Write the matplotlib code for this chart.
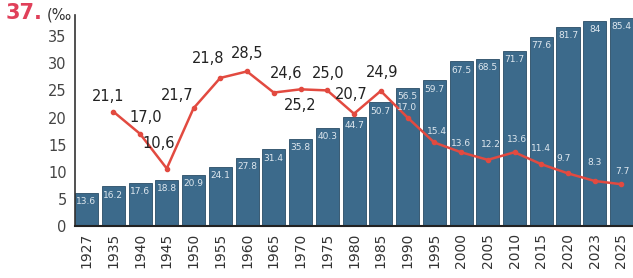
import matplotlib
matplotlib.use("Agg")
import matplotlib.pyplot as plt
import numpy as np

# data
years = ["1927", "1935", "1940", "1945", "1950", "1955", "1960", "1965", "1970",
         "1975", "1980", "1985", "1990", "1995", "2000", "2005", "2010", "2015",
         "2020", "2023", "2025"]
urban = [13.6, 16.2, 17.6, 18.8, 20.9, 24.1, 27.8, 31.4, 35.8, 40.3, 44.7,
         50.7, 56.5, 59.7, 67.5, 68.5, 71.7, 77.6, 81.7, 84, 85.4]
urban_text = ["13.6", "16.2", "17.6", "18.8", "20.9", "24.1", "27.8", "31.4",
              "35.8", "40.3", "44.7", "50.7", "56.5", "59.7", "67.5", "68.5",
              "71.7", "77.6", "81.7", "84", "85.4"]
# rate (‰), from 1935 on
rate = [21.1, 17.0, 10.6, 21.7, 27.3, 28.5, 24.6, 25.2, 25.0, 20.7, 24.9,
        20.0, 15.4, 13.6, 12.2, 13.6, 11.4, 9.7, 8.3, 7.7]
rate_text = ["21,1", "17,0", "10,6", "21,7", "21,8", "28,5", "24,6", "25,2",
             "25,0", "20,7", "24,9", "17.0", "15.4", "13.6", "12.2", "13.6",
             "11.4", "9.7", "8.3", "7.7"]

# label offsets (points) for the rate labels
rate_off = [(-4, 11), (4, 12), (-6, 18), (-12, 9), (-9, 14), (0, 13), (9, 14),
            (0, -12), (1, 12), (-2, 14), (1, 13), (0, 7), (2, 8), (0, 6),
            (2, 11), (2, 9), (0, 11), (-3, 11), (0, 13), (1, 9)]

BAR = "#3c6a8b"
RED = "#e24a40"

fig = plt.figure(figsize=(6.33, 2.78), dpi=100)
ax = fig.add_axes([0.1185, 0.187, 0.8815, 0.759])
ax2 = ax.twinx()

x = np.arange(len(years))
ax2.bar(x, urban, width=0.86, color=BAR, edgecolor="#2a4c66", linewidth=0.6)
for xi, v, t in zip(x, urban, urban_text):
    ax2.annotate(t, (xi, v), xytext=(0, -3), textcoords="offset points",
                 ha="center", va="top", fontsize=6.5, color="#dfe8ef")
ax2.set_ylim(0, 86.5)
ax2.set_yticks([])
for s in ax2.spines.values():
    s.set_visible(False)

# line axis on top of the bars
ax.set_zorder(ax2.get_zorder() + 1)
ax.patch.set_visible(False)
xr = x[1:]
ax.plot(xr, rate, color=RED, lw=1.8, marker="o", ms=3, zorder=3)
for i, (xi, v, t) in enumerate(zip(xr, rate, rate_text)):
    dx, dy = rate_off[i]
    if i < 11:
        ax.annotate(t, (xi, v), xytext=(dx, dy), textcoords="offset points",
                    ha="center", va="center", fontsize=10.5, color="#222222")
    else:
        ax.annotate(t, (xi, v), xytext=(dx, dy), textcoords="offset points",
                    ha="center", va="center", fontsize=6.5, color="#dfe8ef")

ax.set_xlim(-0.43, len(years) - 0.57)
ax.set_ylim(0, 38.9)
ax.set_yticks([0, 5, 10, 15, 20, 25, 30, 35])
ax.set_xticks(x)
ax.set_xticklabels(years, rotation=90)
ax.tick_params(axis="y", length=0, pad=6, labelsize=10.5, labelcolor="#444444")
ax.tick_params(axis="x", length=0, pad=5, labelsize=10, labelcolor="#333333")
ax.spines["top"].set_visible(False)
ax.spines["right"].set_visible(False)
ax.spines["left"].set_color("#333333")
ax.spines["left"].set_linewidth(1.2)
ax.spines["bottom"].set_color("#222222")
ax.spines["bottom"].set_linewidth(1.5)

fig.text(0.008, 0.952, "37.", color="#e0405a", fontsize=15, fontweight="bold",
         va="center", ha="left")
fig.text(0.074, 0.945, "(‰", color="#333333", fontsize=10.5, va="center", ha="left")

fig.savefig("out.png", dpi=100)
